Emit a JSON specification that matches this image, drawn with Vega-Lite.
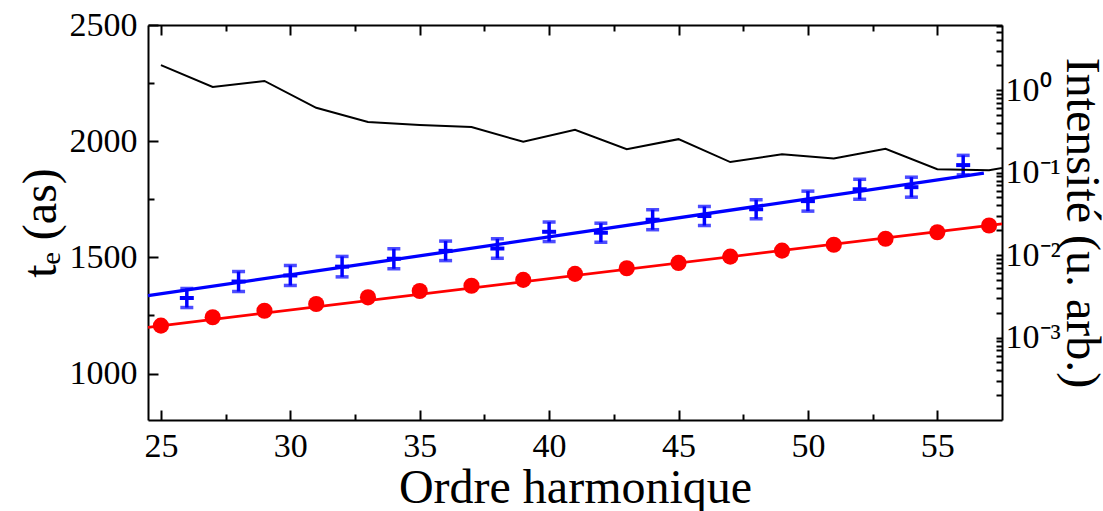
{
  "$schema": "https://vega.github.io/schema/vega-lite/v6.json",
  "width": 854,
  "height": 395,
  "autosize": "none",
  "padding": {"left": 148, "top": 25, "right": 101, "bottom": 91},
  "background": "white",
  "config": {
    "view": {"stroke": null},
    "font": "Liberation Serif",
    "axis": {
      "grid": false,
      "domainColor": "black",
      "domainWidth": 2,
      "tickColor": "black",
      "tickWidth": 2,
      "labelColor": "black",
      "titleColor": "black",
      "labelFont": "Liberation Serif",
      "titleFont": "Liberation Serif",
      "labelFontSize": 34,
      "titleFontSize": 48,
      "titleFontWeight": "normal"
    }
  },
  "datasets": {
    "red": [
      {"h": 25, "te": 1206}, {"h": 27, "te": 1242}, {"h": 29, "te": 1270}, {"h": 31, "te": 1299},
      {"h": 33, "te": 1328}, {"h": 35, "te": 1355}, {"h": 37, "te": 1378}, {"h": 39, "te": 1403},
      {"h": 41, "te": 1429}, {"h": 43, "te": 1453}, {"h": 45, "te": 1476}, {"h": 47, "te": 1503},
      {"h": 49, "te": 1529}, {"h": 51, "te": 1554}, {"h": 53, "te": 1580}, {"h": 55, "te": 1608},
      {"h": 57, "te": 1637}
    ],
    "blue": [
      {"h": 26, "te": 1325, "err": 41}, {"h": 28, "te": 1396, "err": 43}, {"h": 30, "te": 1422, "err": 43},
      {"h": 32, "te": 1460, "err": 44}, {"h": 34, "te": 1494, "err": 43}, {"h": 36, "te": 1528, "err": 42},
      {"h": 38, "te": 1538, "err": 42}, {"h": 40, "te": 1610, "err": 42}, {"h": 42, "te": 1606, "err": 41},
      {"h": 44, "te": 1662, "err": 43}, {"h": 46, "te": 1678, "err": 41}, {"h": 48, "te": 1707, "err": 41},
      {"h": 50, "te": 1742, "err": 43}, {"h": 52, "te": 1793, "err": 43}, {"h": 54, "te": 1802, "err": 43},
      {"h": 56, "te": 1897, "err": 42}
    ],
    "redfit": [{"h": 24.5, "te": 1199}, {"h": 57.5, "te": 1644}],
    "bluefit": [{"h": 24.5, "te": 1335}, {"h": 56.8, "te": 1863}],
    "intensity": [
      {"h": 25, "I": 2.01}, {"h": 27, "I": 1.09}, {"h": 29, "I": 1.29}, {"h": 31, "I": 0.61},
      {"h": 33, "I": 0.41}, {"h": 35, "I": 0.376}, {"h": 37, "I": 0.356}, {"h": 39, "I": 0.236},
      {"h": 41, "I": 0.33}, {"h": 43, "I": 0.192}, {"h": 45, "I": 0.254}, {"h": 47, "I": 0.134},
      {"h": 49, "I": 0.167}, {"h": 51, "I": 0.148}, {"h": 53, "I": 0.194}, {"h": 55, "I": 0.11},
      {"h": 57, "I": 0.107}, {"h": 59, "I": 0.135}
    ]
  },
  "layer": [
    {
      "layer": [
        {
          "data": {"name": "redfit"},
          "mark": {"type": "line", "color": "#ff0000", "strokeWidth": 2.7},
          "encoding": {
            "x": {"field": "h", "type": "quantitative", "scale": {"domain": [24.5, 57.5], "nice": false, "zero": false},
                  "axis": {"orient": "bottom", "values": [27.5, 32.5, 37.5, 42.5, 47.5, 52.5], "tickSize": -6, "labels": false, "domain": false, "title": null}},
            "y": {"field": "te", "type": "quantitative", "scale": {"domain": [800, 2500], "nice": false, "zero": false},
                  "axis": {"orient": "left", "values": [1250, 1750, 2250], "tickSize": -6, "labels": false, "domain": false, "title": null}}
          }
        },
        {
          "data": {"name": "red"},
          "mark": {"type": "point", "shape": "circle", "filled": true, "color": "#ff0000", "opacity": 1, "size": 260},
          "encoding": {
            "x": {"field": "h", "type": "quantitative", "scale": {"domain": [24.5, 57.5], "nice": false, "zero": false},
                  "axis": {"orient": "bottom", "values": [25, 30, 35, 40, 45, 50, 55], "format": "d", "tickSize": -10, "labelPadding": 19,
                           "title": "Ordre harmonique", "titlePadding": 1}},
            "y": {"field": "te", "type": "quantitative", "scale": {"domain": [800, 2500], "nice": false, "zero": false},
                  "axis": {"orient": "left", "values": [1000, 1500, 2000, 2500], "format": "d", "tickSize": -10, "labelPadding": 21,
                           "title": "tₑ (as)", "titlePadding": 4}}
          }
        },
        {
          "data": {"name": "bluefit"},
          "mark": {"type": "line", "color": "#0000ff", "strokeWidth": 3.3},
          "encoding": {
            "x": {"field": "h", "type": "quantitative", "scale": {"domain": [24.5, 57.5], "nice": false, "zero": false},
                  "axis": {"orient": "top", "values": [25, 30, 35, 40, 45, 50, 55], "tickSize": -10, "labels": false, "title": null}},
            "y": {"field": "te", "type": "quantitative", "scale": {"domain": [800, 2500], "nice": false, "zero": false}, "axis": null}
          }
        },
        {
          "data": {"name": "blue"},
          "mark": {"type": "errorbar", "ticks": {"color": "#0000ff"}, "rule": {"color": "#0000ff"}, "size": 13, "thickness": 3.5, "color": "#0000ff"},
          "encoding": {
            "x": {"field": "h", "type": "quantitative", "scale": {"domain": [24.5, 57.5], "nice": false, "zero": false}, "axis": null},
            "y": {"field": "te", "type": "quantitative", "scale": {"domain": [800, 2500], "nice": false, "zero": false}, "axis": null},
            "yError": {"field": "err"}
          }
        },
        {
          "data": {"name": "blue"},
          "mark": {"type": "tick", "orient": "horizontal", "color": "#0000ff", "size": 14, "thickness": 4, "opacity": 1},
          "encoding": {
            "x": {"field": "h", "type": "quantitative", "scale": {"domain": [24.5, 57.5], "nice": false, "zero": false},
                  "axis": {"orient": "top", "values": [27.5, 32.5, 37.5, 42.5, 47.5, 52.5], "tickSize": -6, "labels": false, "domain": false, "title": null}},
            "y": {"field": "te", "type": "quantitative", "scale": {"domain": [800, 2500], "nice": false, "zero": false}, "axis": null}
          }
        }
      ],
      "resolve": {"axis": {"x": "independent", "y": "independent"}}
    },
    {
      "data": {"name": "intensity"},
      "mark": {"type": "line", "color": "black", "strokeWidth": 2, "clip": true},
      "encoding": {
        "x": {"field": "h", "type": "quantitative", "scale": {"domain": [24.5, 57.5], "nice": false, "zero": false}, "axis": null},
        "y": {"field": "I", "type": "quantitative",
              "scale": {"type": "log", "domain": [0.0001, 6.15], "nice": false},
              "axis": {"orient": "right",
                       "values": [0.0002, 0.0003, 0.0004, 0.0005, 0.0006, 0.0007, 0.0008, 0.0009,
                                  0.001, 0.002, 0.003, 0.004, 0.005, 0.006, 0.007, 0.008, 0.009,
                                  0.01, 0.02, 0.03, 0.04, 0.05, 0.06, 0.07, 0.08, 0.09,
                                  0.1, 0.2, 0.3, 0.4, 0.5, 0.6, 0.7, 0.8, 0.9,
                                  1, 2, 3, 4, 5, 6],
                       "labelExpr": "datum.value == 1 ? '10⁰' : datum.value == 0.1 ? '10⁻¹' : datum.value == 0.01 ? '10⁻²' : datum.value == 0.001 ? '10⁻³' : ''",
                       "tickSize": -6, "labelPadding": 9, "labelOverlap": false, "labelBound": false,
                       "title": "Intensité (u. arb.)", "titlePadding": -4}}
      }
    }
  ],
  "resolve": {"scale": {"y": "independent"}, "axis": {"x": "independent", "y": "independent"}}
}
